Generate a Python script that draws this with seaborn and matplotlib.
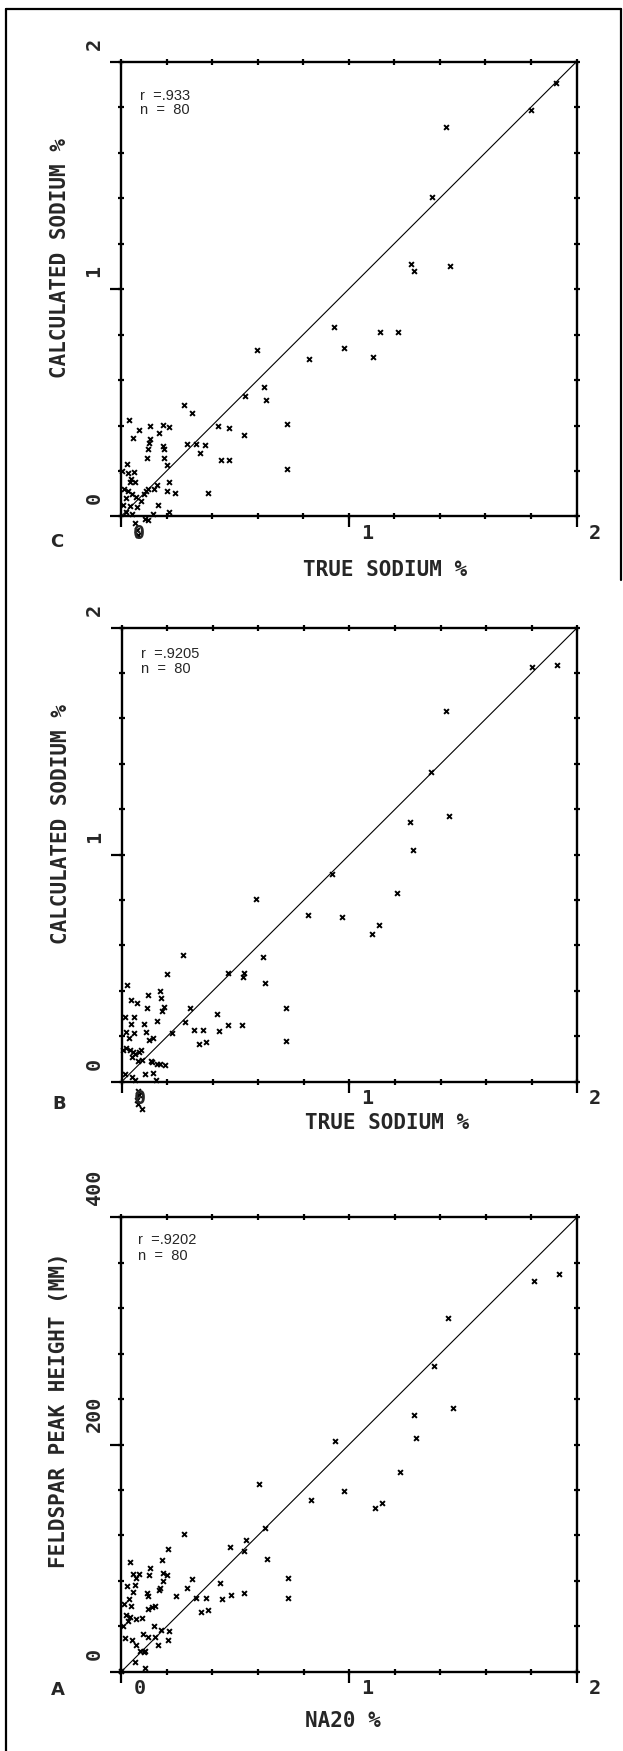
import numpy as np
import pandas as pd
import matplotlib
matplotlib.use("Agg")
import matplotlib.pyplot as plt
import seaborn as sns
from matplotlib import transforms
from matplotlib.lines import Line2D

# ---------------------------------------------------------------- data
# Panel C: true vs calculated sodium (%)
c_true = [1.909, 1.801, 1.426, 1.365, 1.273, 1.287, 1.444, 0.936, 1.137, 1.217,
          0.978, 1.107, 0.827, 0.598, 0.628, 0.544, 0.636, 0.727, 0.727, 0.276,
          0.310, 0.427, 0.474, 0.541, 0.289, 0.331, 0.368, 0.347, 0.438, 0.476,
          0.382, 0.033, 0.078, 0.126, 0.183, 0.209, 0.054, 0.127, 0.167, 0.124,
          0.117, 0.183, 0.187, 0.113, 0.190, 0.204, 0.026, 0.209, 0.200, 0.237,
          0.157, 0.143, 0.162, 0.141, 0.211,
          0.005, 0.030, 0.055, 0.045, 0.040, 0.060, 0.015, 0.030, 0.050, 0.065,
          0.020, 0.090, 0.100, 0.110, 0.120, 0.010, 0.040, 0.070, 0.020, 0.050,
          0.105, 0.120, 0.060, 0.070, 0.075]
c_calc = [1.907, 1.789, 1.711, 1.403, 1.109, 1.078, 1.101, 0.833, 0.813, 0.810,
          0.743, 0.701, 0.691, 0.730, 0.569, 0.532, 0.512, 0.407, 0.207, 0.489,
          0.455, 0.398, 0.390, 0.358, 0.317, 0.317, 0.314, 0.281, 0.247, 0.247,
          0.102, 0.423, 0.382, 0.398, 0.402, 0.395, 0.346, 0.341, 0.369, 0.325,
          0.298, 0.309, 0.298, 0.259, 0.257, 0.228, 0.233, 0.150, 0.112, 0.102,
          0.138, 0.119, 0.049, 0.011, 0.021,
          0.200, 0.190, 0.195, 0.165, 0.150, 0.150, 0.120, 0.110, 0.100, 0.085,
          0.080, 0.070, 0.100, 0.110, 0.120, 0.050, 0.045, 0.040, 0.020, 0.010,
          -0.010, -0.015, -0.030, -0.060, -0.080]

# Panel B: true vs calculated sodium (%)
b_true = [1.913, 1.803, 1.426, 1.360, 1.268, 1.439, 1.280, 1.208, 0.924, 0.588,
          0.816, 0.968, 1.128, 1.097, 0.267, 0.619, 0.467, 0.537, 0.534, 0.628,
          0.720, 0.720, 0.197, 0.024, 0.169, 0.115, 0.174, 0.042, 0.066, 0.113,
          0.186, 0.176, 0.302, 0.054, 0.014, 0.418, 0.279, 0.157, 0.467, 0.530,
          0.042, 0.099, 0.319, 0.359, 0.427, 0.223, 0.106, 0.338, 0.368, 0.122,
          0.139, 0.056, 0.017, 0.030, 0.073, 0.129, 0.157, 0.192, 0.103, 0.139,
          0.152, 0.014, 0.047,
          0.020, 0.035, 0.050, 0.060, 0.075, 0.085, 0.005, 0.045, 0.090, 0.135,
          0.170, 0.060, 0.070, 0.075, 0.065, 0.070, 0.090]
b_calc = [1.837, 1.827, 1.633, 1.364, 1.144, 1.169, 1.022, 0.830, 0.913, 0.807,
          0.733, 0.725, 0.691, 0.650, 0.559, 0.549, 0.481, 0.481, 0.460, 0.435,
          0.324, 0.179, 0.474, 0.425, 0.399, 0.383, 0.370, 0.359, 0.346, 0.326,
          0.328, 0.311, 0.324, 0.284, 0.284, 0.298, 0.262, 0.267, 0.249, 0.248,
          0.253, 0.253, 0.227, 0.227, 0.222, 0.214, 0.220, 0.168, 0.173, 0.183,
          0.191, 0.214, 0.220, 0.191, 0.093, 0.093, 0.077, 0.073, 0.036, 0.039,
          0.008, 0.033, 0.020,
          0.150, 0.140, 0.130, 0.120, 0.130, 0.140, 0.140, 0.110, 0.095, 0.088,
          0.078, 0.007, -0.040, -0.060, -0.080, -0.100, -0.120]

# Panel A: Na2O (%) vs feldspar peak height (mm)
a_na2o = [1.923, 1.813, 1.432, 1.372, 1.285, 1.455, 1.294, 0.939, 1.224, 0.603,
          0.979, 0.834, 1.145, 1.114, 0.629, 0.640, 0.537, 0.547, 0.479, 0.274,
          0.733, 0.731, 0.538, 0.483, 0.435, 0.442, 0.309, 0.288, 0.372, 0.330,
          0.351, 0.381, 0.240, 0.206, 0.180, 0.037, 0.126, 0.052, 0.077, 0.122,
          0.066, 0.185, 0.201, 0.185, 0.024, 0.059, 0.168, 0.052, 0.112, 0.033,
          0.115, 0.012, 0.044, 0.119, 0.133, 0.150, 0.021, 0.038, 0.065, 0.091,
          0.007, 0.143, 0.175, 0.210, 0.094, 0.119, 0.150, 0.017, 0.049, 0.065,
          0.084, 0.105, 0.161, 0.203, 0.059, 0.103, 0.164, 0.029, 0.100, 0.000]
a_peak = [350.3, 343.7, 311.3, 268.9, 226.2, 232.5, 206.0, 203.3, 175.8, 165.6,
          159.3, 151.3, 148.7, 144.0, 126.5, 99.3, 106.0, 115.9, 109.9, 121.5,
          82.1, 65.2, 69.5, 67.9, 77.8, 63.6, 81.8, 73.8, 65.2, 65.2,
          52.3, 54.0, 66.2, 107.6, 98.7, 96.4, 91.7, 86.1, 86.1, 84.8,
          82.8, 86.8, 85.1, 80.1, 75.2, 76.2, 73.5, 70.2, 68.9, 63.6,
          66.9, 59.6, 57.9, 55.3, 57.0, 57.6, 49.7, 48.0, 46.4, 47.4,
          40.4, 40.4, 37.1, 35.8, 33.1, 30.5, 30.5, 29.8, 28.1, 23.2,
          18.2, 18.2, 23.2, 27.8, 8.9, 3.3, 72.0, 45.0, 17.0, 0.5]

x_ticks = [0, 1, 2]
x_tick_labels = ["0", "1", "2"]
pct_ticks = [0, 1, 2]
pct_tick_labels = ["0", "1", "2"]
mm_ticks = [0, 200, 400]
mm_tick_labels = ["0", "200", "400"]

# ---------------------------------------------------------------- style
sns.set_style("white")
plt.rcParams["font.family"] = ["DejaVu Sans Mono", "DejaVu Sans"]

W, H = 623, 1751
DPI = 100
fig = plt.figure(figsize=(W / DPI, H / DPI), dpi=DPI)
fig.patch.set_facecolor("white")


def add_axes_px(left, top, right, bottom):
    return fig.add_axes([left / W, 1 - bottom / H, (right - left) / W, (bottom - top) / H])


def shift(dx, dy):
    return transforms.ScaledTranslation(dx / DPI, dy / DPI, fig.dpi_scale_trans)


def draw_panel(ax, x, y, ymax, yticks, ylabels, xlabel, xlabel_xy, ylabel, ylabel_xy,
               letter, letter_xy, r_text, n_text, rn_xy):
    df = pd.DataFrame({"x": x, "y": y})
    line = pd.DataFrame({"x": [0, 2], "y": [0, ymax]})
    sns.lineplot(data=line, x="x", y="y", color="black", linewidth=0.8, ax=ax)
    sns.scatterplot(data=df, x="x", y="y", marker="x", s=12, color="black",
                    linewidth=1.4, ax=ax, clip_on=False, zorder=3)
    ax.set_xlim(0, 2)
    ax.set_ylim(0, ymax)
    ax.set_xlabel("")
    ax.set_ylabel("")
    for sp in ax.spines.values():
        sp.set_linewidth(1.7)
        sp.set_color("black")

    ax.set_xticks(x_ticks)
    ax.set_yticks(yticks)
    ax.set_xticks(np.linspace(0, 2, 11), minor=True)
    ax.set_yticks(np.linspace(0, ymax, 11), minor=True)
    ax.xaxis.remove_overlapping_locs = False
    ax.yaxis.remove_overlapping_locs = False
    ax.tick_params(which="major", direction="out", length=8, width=1.6,
                   labelbottom=False, labelleft=False, top=False, right=False,
                   bottom=True, left=True, color="black")
    ax.tick_params(which="minor", direction="inout", length=5, width=1.6,
                   top=True, right=True, bottom=True, left=True, color="black")

    # tick labels, set off the tick marks like a pen plotter would
    tx = transforms.blended_transform_factory(ax.transData, ax.transAxes)
    for v, lab in zip(x_ticks, x_tick_labels):
        ax.text(v, 0, lab, transform=tx + shift(12, -17), ha="left", va="center",
                fontsize=14.5, fontweight="bold")
    ty = transforms.blended_transform_factory(ax.transAxes, ax.transData)
    for v, lab in zip(yticks, ylabels):
        ax.text(0, v, lab, transform=ty + shift(-27, 12), rotation=90,
                ha="center", va="bottom", fontsize=14.5, fontweight="bold")

    ax.text(*xlabel_xy, xlabel, transform=ax.transAxes, ha="center", va="center",
            fontsize=15, fontweight="bold")
    ax.text(*ylabel_xy, ylabel, transform=ax.transAxes, ha="center", va="center",
            rotation=90, fontsize=15, fontweight="bold")
    ax.text(*letter_xy, letter, transform=ax.transAxes, ha="center", va="center",
            fontsize=13, fontweight="bold", family=["DejaVu Sans"])
    stat_kw = dict(transform=ax.transAxes, ha="left", va="center", fontsize=10.5,
                   family=["Liberation Sans", "DejaVu Sans"])
    ax.text(rn_xy[0], rn_xy[1], r_text, **stat_kw)
    ax.text(rn_xy[0], rn_xy[2], n_text, **stat_kw)


ax_c = add_axes_px(121, 61.7, 576.5, 516.5)
draw_panel(ax_c, c_true, c_calc, 2, pct_ticks, pct_tick_labels,
           "TRUE SODIUM %", (0.58, -0.118),
           "CALCULATED SODIUM %", (-0.134, 0.568),
           "C", (-0.141, -0.055), "r  =.933", "n  =  80", (0.042, 0.925, 0.894))

ax_b = add_axes_px(121.7, 627.7, 577.2, 1081.7)
draw_panel(ax_b, b_true, b_calc, 2, pct_ticks, pct_tick_labels,
           "TRUE SODIUM %", (0.582, -0.090),
           "CALCULATED SODIUM %", (-0.134, 0.568),
           "B", (-0.137, -0.049), "r  =.9205", "n  =  80", (0.043, 0.942, 0.908))

ax_a = add_axes_px(121.3, 1217.3, 577.0, 1671.7)
draw_panel(ax_a, a_na2o, a_peak, 400, mm_ticks, mm_tick_labels,
           "NA20 %", (0.487, -0.108),
           "FELDSPAR PEAK HEIGHT (MM)", (-0.136, 0.576),
           "A", (-0.14, -0.040), "r  =.9202", "n  =  80", (0.037, 0.950, 0.915))

# page frame
frame_kw = dict(color="black", linewidth=1.6, transform=fig.transFigure)
fig.add_artist(Line2D([6 / W, 6 / W], [0, 1 - 9 / H], **frame_kw))
fig.add_artist(Line2D([6 / W, 621 / W], [1 - 9 / H, 1 - 9 / H], **frame_kw))
fig.add_artist(Line2D([621 / W, 621 / W], [1 - 9 / H, 1 - 580 / H], **frame_kw))

fig.savefig("out.png", dpi=DPI, facecolor="white")
